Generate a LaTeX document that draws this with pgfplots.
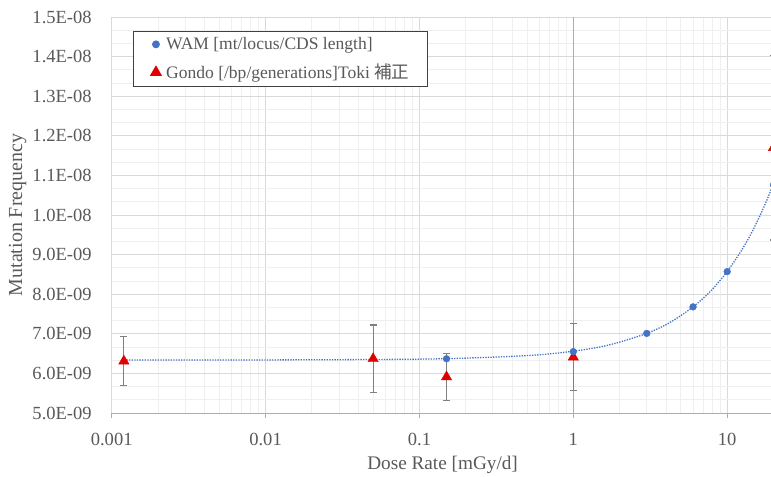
\documentclass[border=0pt]{standalone}
\usepackage{fontspec}
\setmainfont{Liberation Serif}
\newfontfamily\cjk{Noto Sans CJK JP}
\usepackage{pgfplots}
\pgfplotsset{compat=1.18}
\usetikzlibrary{calc}

\definecolor{wamblue}{HTML}{4472C4}
\definecolor{gondored}{HTML}{E00000}
\definecolor{txtgray}{HTML}{595959}
\definecolor{majgrid}{HTML}{D9D9D9}
\definecolor{mingrid}{HTML}{EFEFEF}
\definecolor{axisgray}{HTML}{ADADAD}
\definecolor{errgray}{HTML}{808080}
\definecolor{legendgray}{HTML}{404040}

% Gondo: dose rate, frequency, error
\pgfplotstableread{
x y err
0.0012 6.31e-9 0.615e-9
0.05 6.37e-9 0.85e-9
0.15 5.91e-9 0.60e-9
1 6.41e-9 0.84e-9
20 1.17e-8 2.33e-9
}\gondo

% WAM points
\pgfplotstableread{
x y
0.15 6.37e-9
1 6.55e-9
3 7.01e-9
6 7.68e-9
10 8.57e-9
20 1.076e-8
}\wam

% dotted trend line
\pgfplotstableread{
x y
0.0012 6.34e-9
0.01 6.34e-9
0.1 6.36e-9
0.3 6.41e-9
0.6 6.47e-9
1 6.56e-9
1.5 6.67e-9
2 6.79e-9
3 7.01e-9
4 7.23e-9
5 7.46e-9
6 7.68e-9
7 7.90e-9
8 8.12e-9
9 8.35e-9
10 8.57e-9
12 9.02e-9
14 9.46e-9
16 9.91e-9
18 1.035e-8
20 1.080e-8
22 1.125e-8
}\trend

\begin{document}
\begin{tikzpicture}
\begin{axis}[
  scale only axis,
  width=661.8bp, height=396bp,
  xmode=log,
  xmin=0.001, xmax=20,
  ymin=5e-9, ymax=1.5e-8,
  axis lines=left,
  axis line style={-},
  x axis line style={draw=axisgray, line width=1bp},
  y axis line style={draw=majgrid, line width=0.9bp},
  xtick={0.001,0.01,0.1,1,10},
  xticklabels={0.001,0.01,0.1,1,10},
  extra x ticks={1},
  extra x tick labels={},
  extra x tick style={major grid style={draw=axisgray, line width=1bp}},
  ytick={5e-9,6e-9,7e-9,8e-9,9e-9,1e-8,1.1e-8,1.2e-8,1.3e-8,1.4e-8,1.5e-8},
  yticklabels={5.0E-09,6.0E-09,7.0E-09,8.0E-09,9.0E-09,1.0E-08,1.1E-08,1.2E-08,1.3E-08,1.4E-08,1.5E-08},
  scaled y ticks=false,
  minor y tick num=2,
  grid=both,
  major grid style={draw=majgrid, line width=0.9bp},
  minor grid style={draw=mingrid, line width=0.9bp},
  tick align=outside,
  major tick length=5bp,
  minor tick length=0bp,
  ytick style={draw=none},
  xtick style={draw=axisgray, line width=1bp},
  tick label style={font=\fontsize{18.6}{21}\selectfont, text=txtgray},
  y tick label style={xshift=-11.5bp},
  x tick label style={yshift=-11.5bp},
  xlabel={Dose Rate [mGy/d]},
  ylabel={Mutation Frequency},
  xlabel style={font=\fontsize{19.3}{22}\selectfont, text=txtgray,
    at={(axis description cs:0.5,-0.131)}, anchor=center},
  ylabel style={font=\fontsize{20}{23}\selectfont, text=txtgray,
    at={(axis description cs:-0.142,0.5)}, anchor=center},
  reverse legend,
  legend cell align=left,
  legend image code/.code={\draw[#1] plot coordinates {(0bp,0bp)};},
  legend style={
    at={(axis description cs:0.0326,0.9646)}, anchor=north west,
    draw=legendgray, line width=1bp, fill=white,
    font=\fontsize{17.6}{20}\selectfont, text=txtgray,
    inner xsep=17bp, inner ysep=5bp, row sep=11bp,
    nodes={inner sep=1bp},
    /tikz/every odd column/.append style={column sep=4bp},
  },
]
\addplot[forget plot, wamblue, line width=1.3bp, dash pattern=on 1.3bp off 1.3bp, smooth]
  table[x=x, y=y] {\trend};
\addplot[only marks, mark=triangle*, mark size=6bp, color=gondored,
  error bars/.cd, y dir=both, y explicit, error mark=-,
  error bar style={draw=errgray, line width=1.2bp},
  error mark options={rotate=90, draw=errgray, line width=1.2bp, mark size=3.5bp}]
  table[x=x, y=y, y error=err] {\gondo};
\addlegendentry{Gondo [/bp/generations]Toki {\cjk 補正}}
\addplot[only marks, mark=*, mark size=3.4bp, color=wamblue]
  table[x=x, y=y] {\wam};
\addlegendentry{WAM [mt/locus/CDS length]}
\end{axis}
\pgfresetboundingbox
\path[use as bounding box] ($(current axis.south west)+(-111.7bp,-64bp)$) rectangle ($(current axis.north east)+(-2.5bp,17bp)$);
\end{tikzpicture}
\end{document}
